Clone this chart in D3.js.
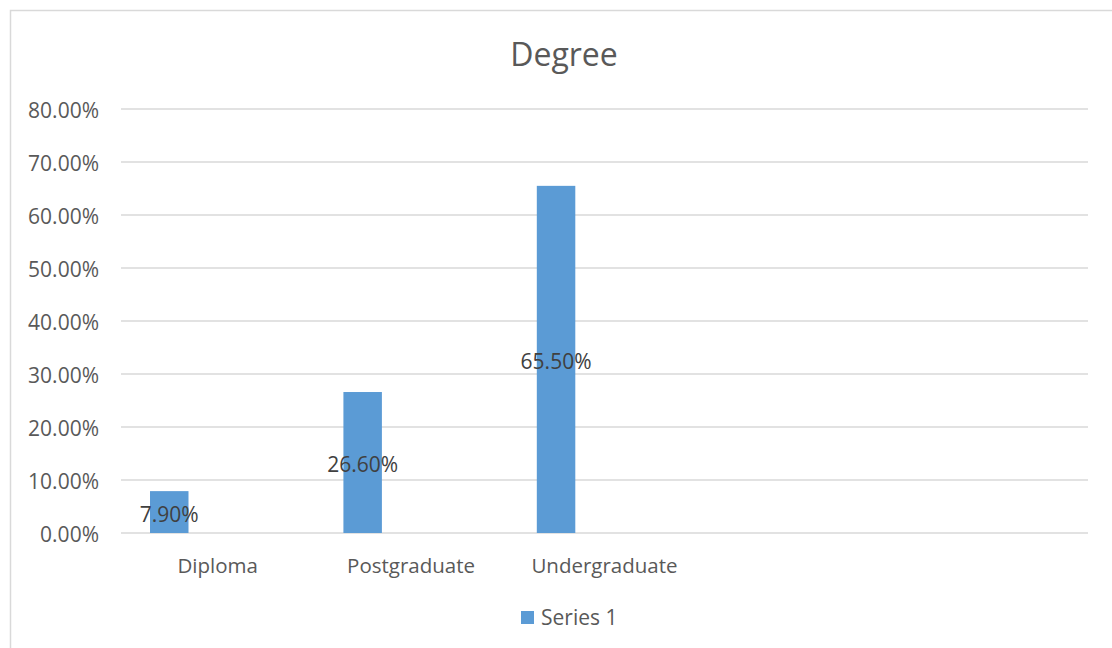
<!DOCTYPE html>
<html>
<head>
<meta charset="utf-8">
<script src="https://cdn.jsdelivr.net/npm/d3@7"></script>
<style>
  html, body { margin: 0; padding: 0; background: #fff; }
  svg { display: block; font-family: "Open Sans", sans-serif; }
</style>
</head>
<body>
<svg id="chart" width="1112" height="648"></svg>
<script>
// Degree distribution, single series
const chartTitle = "Degree";
const categories = ["Diploma", "Postgraduate", "Undergraduate"];
const seriesName = "Series 1";
const seriesValues = [7.9, 26.6, 65.5];
const yTicks = [0, 10, 20, 30, 40, 50, 60, 70, 80];
const slotCount = 5; // category slots on the axis (last two are empty)

const W = 1112, H = 648;
const margin = { left: 121, right: 24, top: 109, bottom: 115 };
const textColor = "#595959";
const gridColor = "#D9D9D9";
const barColor = "#5B9BD5";

const svg = d3.select("#chart");

// outer chart frame
svg.append("rect")
  .attr("x", 10.5).attr("y", 10.5)
  .attr("width", W + 20).attr("height", H + 20)
  .attr("fill", "none").attr("stroke", gridColor).attr("stroke-width", 1.5);

const x = d3.scaleBand()
  .domain(d3.range(slotCount))
  .range([margin.left, W - margin.right]);

const y = d3.scaleLinear()
  .domain([0, 80])
  .range([H - margin.bottom, margin.top]);

// gridlines
svg.append("g")
  .selectAll("line")
  .data(yTicks)
  .join("line")
  .attr("x1", x.range()[0]).attr("x2", x.range()[1])
  .attr("y1", d => y(d)).attr("y2", d => y(d))
  .attr("stroke", gridColor).attr("stroke-width", 1.5);

// y axis labels
const yAxis = d3.axisLeft(y)
  .tickValues(yTicks)
  .tickFormat(d => d.toFixed(2) + "%")
  .tickSize(0)
  .tickPadding(22);
const gy = svg.append("g")
  .attr("transform", `translate(${margin.left},0)`)
  .call(yAxis);
gy.select(".domain").remove();
gy.selectAll("text")
  .attr("dy", "0.42em")
  .attr("fill", textColor)
  .attr("font-size", 21)
  .attr("font-family", "'Open Sans', sans-serif");

// x axis labels
const xAxis = d3.axisBottom(x)
  .tickFormat(i => categories[i] || "")
  .tickSize(0)
  .tickPadding(25);
const gx = svg.append("g")
  .attr("transform", `translate(0,${y(0)})`)
  .call(xAxis);
gx.select(".domain").remove();
gx.selectAll("text")
  .attr("fill", textColor)
  .attr("font-size", 20.5)
  .attr("font-family", "'Open Sans', sans-serif");

// bars sit in the first series slot of each category group
const bw = x.bandwidth();
const barOffset = bw * 0.15;
const barWidth = bw * 0.199;

const data = categories.map((c, i) => ({ i, c, v: seriesValues[i] }));

svg.append("g")
  .selectAll("rect")
  .data(data)
  .join("rect")
  .attr("x", d => x(d.i) + barOffset)
  .attr("y", d => y(d.v))
  .attr("width", barWidth)
  .attr("height", d => y(0) - y(d.v))
  .attr("fill", barColor);

// value labels, centred in each bar
svg.append("g")
  .selectAll("text")
  .data(data)
  .join("text")
  .attr("x", d => x(d.i) + barOffset + barWidth / 2)
  .attr("y", d => (y(d.v) + y(0)) / 2)
  .attr("dy", "0.45em")
  .attr("text-anchor", "middle")
  .attr("fill", "#404040")
  .attr("font-size", 21)
  .text(d => d.v.toFixed(2) + "%");

// title
svg.append("text")
  .attr("x", 564)
  .attr("y", 55)
  .attr("dy", "0.35em")
  .attr("text-anchor", "middle")
  .attr("fill", textColor)
  .attr("font-size", 32)
  .text(chartTitle);

// legend
const lg = svg.append("g").attr("transform", "translate(521,611)");
lg.append("rect").attr("width", 13).attr("height", 13).attr("fill", barColor);
lg.append("text")
  .attr("x", 20).attr("y", 6.5).attr("dy", "0.35em")
  .attr("fill", textColor).attr("font-size", 21)
  .text(seriesName);
</script>
</body>
</html>
